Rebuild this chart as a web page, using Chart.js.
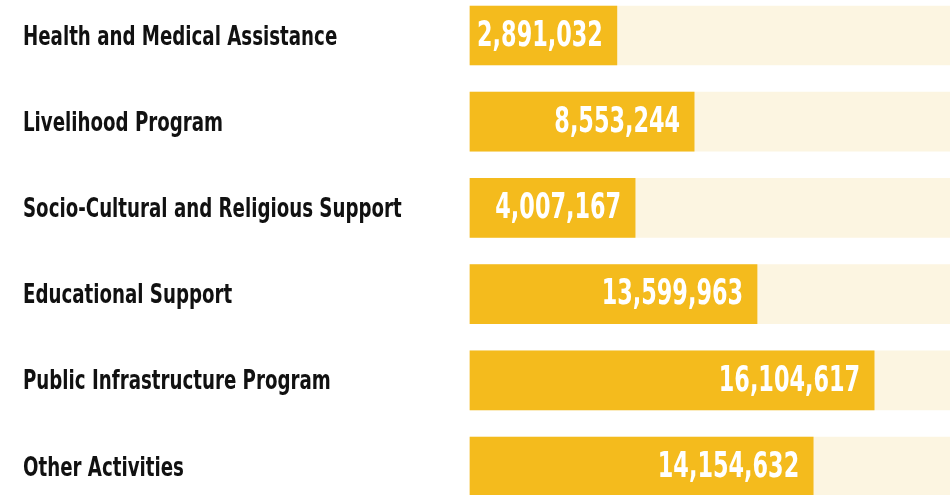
<!DOCTYPE html>
<html>
<head>
<meta charset="utf-8">
<script src="https://cdn.jsdelivr.net/npm/chart.js@4.4.1/dist/chart.umd.min.js"></script>
<style>
	html, body { margin: 0; padding: 0; background: #fff; overflow: hidden; }
	#wrap { position: relative; width: 950px; height: 495px; }
</style>
</head>
<body>
<div id="wrap"><canvas id="chart"></canvas></div>
<script>
// programme names, top to bottom
const categories = [
	'Health and Medical Assistance',
	'Livelihood Program',
	'Socio-Cultural and Religious Support',
	'Educational Support',
	'Public Infrastructure Program',
	'Other Activities'
];

// amounts printed inside the bars
const amounts = [2891032, 8553244, 4007167, 13599963, 16104617, 14154632];

// filled share of each track (%), as drawn in the picture
const barLengths = [30.6, 46.7, 34.4, 59.8, 84.2, 71.5];

// full track behind every bar
const trackMax = 100;
const trackValues = categories.map(() => trackMax);

const LABEL_FONT = '"DejaVu Sans Condensed", "DejaVu Sans", sans-serif';

// no condensed display face is installed, so squeeze the text sideways
const drawSqueezed = (ctx, text, x, y, sx) => {
	ctx.save();
	ctx.translate(x, y);
	ctx.scale(sx, 1);
	ctx.fillText(text, 0, 0);
	ctx.restore();
};

const textLabels = {
	id: 'textLabels',
	afterDatasetsDraw(chart) {
		const ctx = chart.ctx;
		const yScale = chart.scales.y;

		// category names on the left
		ctx.save();
		ctx.font = 'bold 27px ' + LABEL_FONT;
		ctx.fillStyle = '#111111';
		ctx.textAlign = 'left';
		ctx.textBaseline = 'middle';
		categories.forEach((name, i) => {
			drawSqueezed(ctx, name, yScale.left, yScale.getPixelForTick(i) + 2, 0.75);
		});
		ctx.restore();

		// amounts inside the bars
		const meta = chart.getDatasetMeta(0);
		ctx.save();
		ctx.font = 'bold 36px ' + LABEL_FONT;
		ctx.fillStyle = '#ffffff';
		ctx.textAlign = 'right';
		ctx.textBaseline = 'middle';
		meta.data.forEach((bar, i) => {
			drawSqueezed(ctx, amounts[i].toLocaleString('en-US'), bar.x - 14, bar.y + 1, 0.69);
		});
		ctx.restore();
	}
};

new Chart(document.getElementById('chart'), {
	type: 'bar',
	data: {
		labels: categories,
		datasets: [
			{
				data: barLengths,
				backgroundColor: '#F4BB1D',
				barThickness: 59,
				grouped: false,
				order: 1,
				clip: false
			},
			{
				data: trackValues,
				backgroundColor: '#FCF5E1',
				barThickness: 59,
				grouped: false,
				order: 2,
				clip: false
			}
		]
	},
	options: {
		indexAxis: 'y',
		responsive: true,
		maintainAspectRatio: false,
		animation: false,
		layout: { padding: { left: 23, top: 35.5, bottom: 28.5, right: 0 } },
		plugins: {
			legend: { display: false },
			tooltip: { enabled: false }
		},
		scales: {
			x: {
				display: false,
				min: 0,
				max: trackMax
			},
			y: {
				offset: false,
				grid: { display: false, drawTicks: false },
				border: { display: false },
				afterFit: (scale) => { scale.width = 447; },
				ticks: { display: false, autoSkip: false }
			}
		}
	},
	plugins: [textLabels]
});
</script>
</body>
</html>
